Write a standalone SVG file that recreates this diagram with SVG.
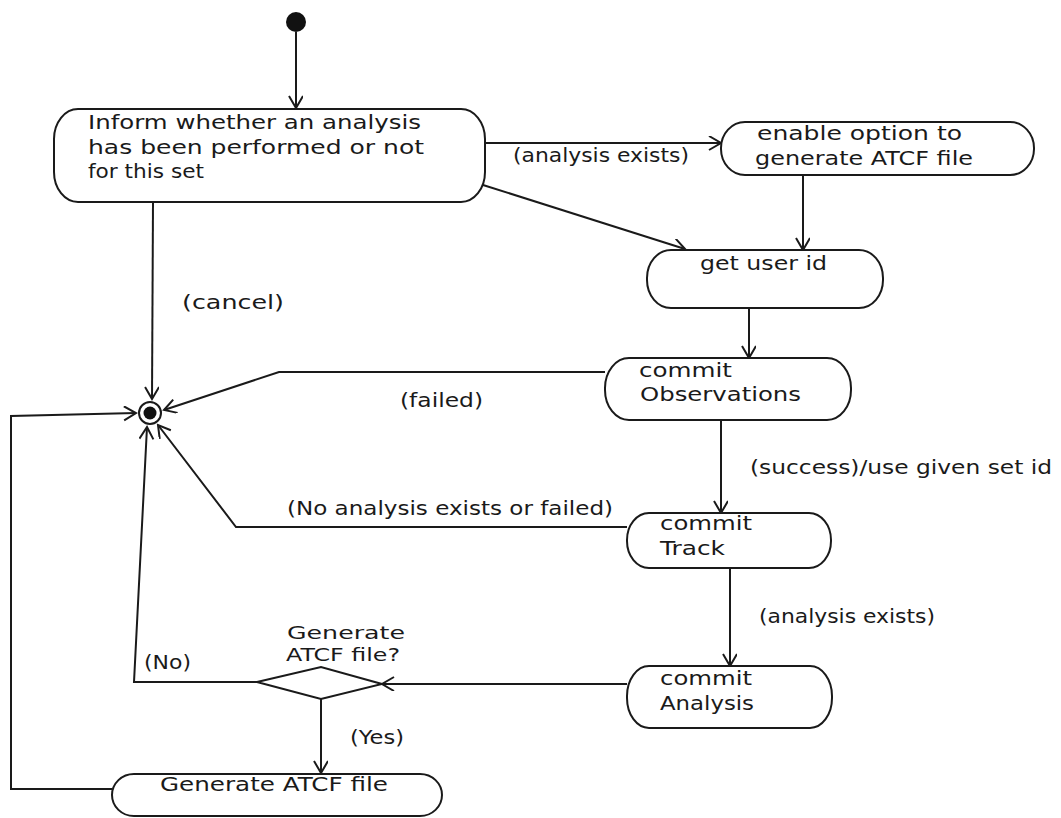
<svg xmlns="http://www.w3.org/2000/svg" width="1061" height="818" viewBox="0 0 1061 818">
<style>
.n{fill:#fff;stroke:#1a1a1a;stroke-width:2}
.c{fill:none;stroke:#1a1a1a;stroke-width:2}
text{font-family:"DejaVu Sans","Liberation Sans",sans-serif;font-size:20px;fill:#1a1a1a}
.s{font-size:18px}
</style>
<defs>
<marker id="a" markerUnits="userSpaceOnUse" markerWidth="16" markerHeight="16" refX="13" refY="7" orient="auto">
<path d="M1,0 L13,7 L1,14" fill="none" stroke="#1a1a1a" stroke-width="2"/>
</marker>
</defs>
<rect width="1061" height="818" fill="#fff"/>
<g id="connectors">
<path class="c" d="M296,32 L296,108" marker-end="url(#a)"/>
<path class="c" d="M485,143 L721,143" marker-end="url(#a)"/>
<path class="c" d="M483,185 L685,249" marker-end="url(#a)"/>
<path class="c" d="M803,175 L803,250" marker-end="url(#a)"/>
<path class="c" d="M749,308 L749,358" marker-end="url(#a)"/>
<path class="c" d="M605,372 L279,372 L164,410" marker-end="url(#a)"/>
<path class="c" d="M153,202 L152,399" marker-end="url(#a)"/>
<path class="c" d="M721,420 L721,513" marker-end="url(#a)"/>
<path class="c" d="M627,527 L236,527 L158,425" marker-end="url(#a)"/>
<path class="c" d="M730,568 L730,666" marker-end="url(#a)"/>
<path class="c" d="M627,684 L382,684" marker-end="url(#a)"/>
<path class="c" d="M257,682 L134,682 L147,427" marker-end="url(#a)"/>
<path class="c" d="M321,699 L321,773" marker-end="url(#a)"/>
<path class="c" d="M112,789 L11,789 L11,416 L136,413" marker-end="url(#a)"/>
<text x="513" y="162" textLength="176" lengthAdjust="spacingAndGlyphs">(analysis exists)</text>
<text x="182" y="309" textLength="102" lengthAdjust="spacingAndGlyphs">(cancel)</text>
<text x="400" y="407" textLength="83" lengthAdjust="spacingAndGlyphs">(failed)</text>
<text x="750" y="474" textLength="302" lengthAdjust="spacingAndGlyphs">(success)/use given set id</text>
<text x="287" y="515" textLength="326" lengthAdjust="spacingAndGlyphs">(No analysis exists or failed)</text>
<text x="759" y="623" textLength="176" lengthAdjust="spacingAndGlyphs">(analysis exists)</text>
<text x="144" y="669" textLength="47" lengthAdjust="spacingAndGlyphs">(No)</text>
<text x="350" y="744" textLength="54" lengthAdjust="spacingAndGlyphs">(Yes)</text>
</g>
<g id="start">
<circle cx="296" cy="22" r="10" fill="#111"/>
</g>
<g id="inform">
<rect class="n" x="54" y="109" width="431" height="93" rx="24" ry="30"/>
<text x="88" y="129" textLength="333" lengthAdjust="spacingAndGlyphs">Inform whether an analysis</text>
<text x="88" y="154" textLength="336" lengthAdjust="spacingAndGlyphs">has been performed or not</text>
<text x="88" y="178" textLength="116" lengthAdjust="spacingAndGlyphs">for this set</text>
</g>
<g id="enable">
<rect class="n" x="721" y="122" width="313" height="53" rx="24" ry="26"/>
<text x="757" y="140" textLength="205" lengthAdjust="spacingAndGlyphs">enable option to</text>
<text x="755" y="165" textLength="218" lengthAdjust="spacingAndGlyphs">generate ATCF file</text>
</g>
<g id="userid">
<rect class="n" x="647" y="250" width="236" height="58" rx="24" ry="28"/>
<text x="700" y="270" textLength="127" lengthAdjust="spacingAndGlyphs">get user id</text>
</g>
<g id="observations">
<rect class="n" x="605" y="358" width="246" height="62" rx="24" ry="30"/>
<text x="639" y="377" textLength="93" lengthAdjust="spacingAndGlyphs">commit</text>
<text x="640" y="401" textLength="161" lengthAdjust="spacingAndGlyphs">Observations</text>
</g>
<g id="track">
<rect class="n" x="627" y="513" width="204" height="55" rx="22" ry="27"/>
<text x="660" y="530" textLength="92" lengthAdjust="spacingAndGlyphs">commit</text>
<text x="660" y="555" textLength="65" lengthAdjust="spacingAndGlyphs">Track</text>
</g>
<g id="analysis">
<rect class="n" x="627" y="666" width="205" height="62" rx="22" ry="30"/>
<text x="660" y="685" textLength="92" lengthAdjust="spacingAndGlyphs">commit</text>
<text x="660" y="710" textLength="94" lengthAdjust="spacingAndGlyphs">Analysis</text>
</g>
<g id="decision">
<polygon class="n" points="257,682 321,667 382,684 321,699"/>
<text class="s" x="287" y="639" textLength="118" lengthAdjust="spacingAndGlyphs">Generate</text>
<text class="s" x="286" y="661" textLength="114" lengthAdjust="spacingAndGlyphs">ATCF file?</text>
</g>
<g id="generate">
<rect class="n" x="112" y="774" width="330" height="42" rx="22" ry="21"/>
<text x="160" y="791" textLength="228" lengthAdjust="spacingAndGlyphs">Generate ATCF file</text>
</g>
<g id="final">
<circle cx="150" cy="413" r="11" fill="#fff" stroke="#1a1a1a" stroke-width="2"/>
<circle cx="150" cy="413" r="6.5" fill="#111"/>
</g>
</svg>
